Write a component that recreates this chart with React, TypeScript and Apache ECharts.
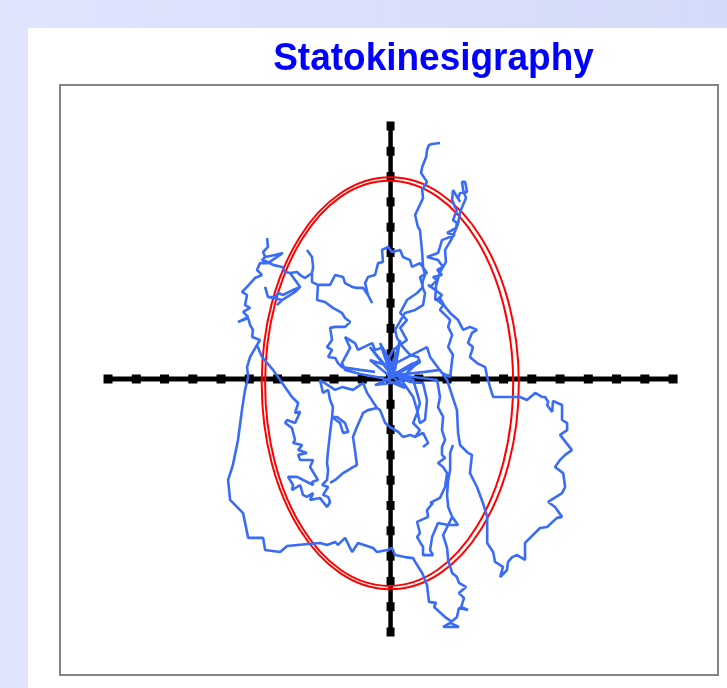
import React, { useEffect, useRef } from "react";
import * as echarts from "echarts";

type P = [number, number];

// Cross ticks (arbitrary sway units, one marker per unit)
const crossTicks = [-10, -9, -8, -7, -6, -5, -4, -3, -2, -1, 0, 1, 2, 3, 4, 5, 6, 7, 8, 9, 10];

// Confidence ellipses: [cx, cy, rx, ry]
const ellipses: [number, number, number, number][] = [
  [-0.01, -0.17, 4.55, 8.14],
  [-0.05, -0.17, 4.39, 8.01],
];

// Centre-of-pressure trajectory, in pieces (x = medio-lateral, y = antero-posterior)
const segTop: P[] = [
  [1.75, 9.33], [1.47, 9.29], [1.36, 9.25], [1.29, 9.05], [1.26, 8.77], [1.12, 8.38], [1.08, 8.14],
  [1.29, 7.79], [1.12, 7.47], [1.15, 7.15], [0.87, 6.48], [0.97, 6.01], [1.04, 5.89], [1.12, 4.98],
  [1.15, 4.43], [1.22, 4.11], [1.15, 3.91], [1.12, 3.64], [1.22, 3.40], [1.15, 2.92], [0.87, 2.73],
  [0.51, 2.61], [0.16, 1.94], [0.23, 1.62], [0.44, 1.26], [0.69, 0.95], [0.97, 0.87], [1.04, 0.67],
  [0.76, 0.47], [0.34, 0.28], [-0.02, 0.24],
];

const segCenter: P[] = [
  [-0.73, 1.26], [-0.19, 0.55], [-0.73, 0.75], [0.05, 0.04], [-0.37, 1.42], [0.16, 0.36], [0.34, 1.54],
  [-0.09, -0.04], [0.80, 0.63], [0.09, 0.16], [1.04, 0.75], [0.27, -0.12], [-0.55, -0.24], [0.16, 0.12],
  [-0.30, 1.23], [-0.55, 1.15], [-0.65, 1.42], [-0.80, 1.34], [-1.15, 1.15], [-1.26, 1.42], [-1.61, 1.66],
  [-1.43, 1.23], [-1.72, 0.63], [-1.61, 0.36], [-1.08, 0.20], [-0.30, 0.04], [0.51, -0.36], [-0.09, 0.28],
  [0.69, -0.12], [1.15, -0.16], [1.29, -0.83], [1.22, -1.62], [1.04, -1.74], [0.94, -1.23], [0.80, -0.71],
  [0.51, -0.24], [-0.02, 0.51], [1.29, 1.26], [1.40, 0.87], [1.82, 0.24], [2.11, 0.08],
];

const segRight: P[] = [
  [2.18, 0.75], [2.21, 0.95], [2.04, 1.26], [2.18, 1.74], [2.04, 2.06], [2.11, 2.33], [1.86, 2.61],
  [1.75, 2.73], [1.86, 2.92], [1.65, 3.12], [1.82, 3.32], [1.58, 3.52], [1.33, 3.72], [1.40, 3.64],
  [1.65, 3.91], [1.50, 4.03], [1.82, 4.11], [1.65, 4.31], [1.86, 4.43], [1.68, 4.70], [1.29, 4.82],
  [1.68, 4.98], [1.75, 5.22], [1.82, 5.49], [2.28, 5.69], [2.00, 5.77], [2.32, 5.97], [2.35, 6.17],
  [2.21, 6.28], [2.35, 6.68], [2.28, 6.80], [2.18, 7.08], [2.21, 7.47], [2.46, 7.00], [2.39, 7.15],
  [2.46, 7.35], [2.71, 7.39], [2.64, 7.79], [2.53, 7.79],
  [2.57, 7.47], [2.67, 7.15], [2.46, 6.60], [2.39, 6.13], [2.18, 5.57], [1.93, 5.10], [1.96, 4.62],
  [1.75, 4.23], [1.61, 3.68], [1.58, 3.12], [1.75, 3.20], [1.93, 2.85], [2.11, 2.61], [2.39, 2.33],
  [2.57, 1.94], [2.81, 2.06], [3.06, 1.94], [2.88, 1.82], [2.74, 1.42], [2.92, 1.26], [2.81, 0.87],
  [3.06, 0.63], [3.35, 0.47], [3.42, 0.08], [3.52, -0.32], [3.63, -0.71],
  [4.58, -0.71], [4.83, -0.83], [5.12, -0.55], [5.36, -0.71], [5.47, -0.71], [5.58, -0.91], [5.54, -1.03],
  [5.72, -1.30], [5.75, -0.87], [6.07, -1.03], [6.07, -1.62], [6.25, -1.74], [6.25, -2.02], [6.00, -2.21],
  [6.42, -2.81], [6.18, -3.00], [6.00, -3.20], [5.82, -3.48], [6.11, -3.72], [6.18, -4.27], [6.07, -4.51],
  [5.58, -4.86], [5.82, -5.06], [6.07, -5.45], [5.89, -5.49], [5.54, -5.85], [5.29, -5.89], [4.76, -6.48],
  [4.76, -7.15], [4.48, -6.96], [4.30, -7.04], [4.16, -7.23], [4.12, -7.55], [3.88, -7.83], [3.98, -7.43],
  [3.70, -7.23], [3.63, -6.84], [3.42, -6.48], [3.42, -5.45], [3.27, -4.90], [3.06, -4.27], [2.81, -3.72],
  [2.88, -3.00], [2.74, -2.92], [2.46, -2.61], [2.39, -2.13], [2.35, -1.23], [2.00, -0.04], [1.75, 0.36],
  [1.22, 0.28], [0.51, 0.20], [-0.02, 0.20],
];

const segLower: P[] = [
  [1.65, -0.04], [1.75, -0.71], [1.68, -1.11], [1.86, -1.50], [1.82, -2.02], [1.93, -2.41], [1.82, -2.69],
  [1.82, -3.00], [1.93, -3.12], [1.68, -3.32], [1.86, -3.48], [2.00, -3.72], [1.93, -4.27], [1.75, -4.70],
  [1.47, -4.86], [1.40, -4.90], [1.50, -4.90], [1.29, -5.18], [1.33, -5.45], [0.94, -5.65], [1.04, -6.09],
  [0.94, -6.25], [1.15, -6.64], [1.15, -6.96], [1.50, -6.96], [1.40, -6.76], [1.47, -6.25], [1.68, -5.69],
  [2.04, -5.77], [2.39, -5.77], [2.18, -5.45], [2.04, -5.06], [2.00, -4.58], [2.04, -3.99], [2.11, -3.60],
  [2.11, -2.92], [2.21, -2.61], [2.11, -2.92], [2.11, -3.60], [2.04, -3.99], [2.00, -4.58], [2.04, -5.06],
  [2.18, -5.45], [2.04, -5.77], [1.86, -6.17], [2.00, -6.68], [2.04, -7.15], [2.18, -7.67], [2.35, -7.83],
  [2.42, -8.06], [2.67, -8.22], [2.42, -8.46], [2.60, -8.66], [2.50, -9.01], [2.74, -9.13], [2.42, -9.05],
  [2.35, -9.41], [2.11, -9.64], [2.42, -9.80], [1.86, -9.80], [2.18, -9.60], [1.93, -9.41], [1.54, -9.01],
  [1.61, -8.85], [1.36, -8.81], [1.29, -8.14], [1.12, -7.67], [0.87, -7.23], [0.80, -7.08], [0.51, -7.04],
  [0.16, -6.96], [0.05, -6.68], [-0.12, -6.76], [-0.48, -6.84], [-0.62, -6.68], [-1.15, -6.48], [-1.36, -6.84],
  [-1.61, -6.28], [-1.86, -6.56], [-1.96, -6.44], [-2.25, -6.56], [-2.50, -6.48], [-2.92, -6.52], [-3.66, -6.60],
  [-3.91, -6.84], [-4.44, -6.76], [-4.51, -6.28], [-5.04, -6.28], [-5.22, -5.30], [-5.68, -4.78], [-5.75, -3.99],
  [-5.58, -3.40], [-5.40, -2.41], [-5.26, -1.23], [-5.15, -0.43], [-5.04, 0.08], [-5.08, 0.47], [-4.97, 0.87],
  [-4.73, 1.34],
  [-4.55, 0.87], [-4.16, 0.36], [-3.91, -0.04], [-3.49, -0.71], [-3.27, -0.95], [-3.38, -1.34], [-3.20, -1.30],
  [-3.38, -1.74], [-3.66, -1.62], [-3.73, -1.74], [-3.49, -1.94], [-3.38, -2.41], [-3.45, -2.53], [-3.13, -2.61],
  [-3.27, -2.81], [-2.96, -2.92], [-3.27, -3.00], [-3.20, -3.20], [-2.74, -3.20], [-2.85, -3.48], [-2.57, -3.99],
  [-2.78, -4.07], [-2.74, -4.19], [-3.31, -3.87], [-3.63, -3.87], [-3.45, -4.19], [-3.49, -4.39], [-3.20, -4.19],
  [-3.10, -4.58], [-2.96, -4.66], [-2.74, -4.51], [-2.85, -4.78], [-2.50, -4.70], [-2.25, -5.06], [-2.14, -4.86],
  [-2.21, -4.66], [-2.39, -4.58], [-2.21, -4.27], [-2.42, -4.19], [-2.25, -3.99],
  [-2.21, -3.60], [-2.25, -3.32], [-2.21, -2.81], [-2.14, -2.13], [-2.07, -1.50], [-1.89, -1.50], [-1.61, -1.74],
  [-1.50, -2.09], [-1.68, -2.13], [-1.79, -1.74], [-2.07, -1.50], [-2.04, -1.11], [-2.14, -0.83], [-2.21, -0.43],
  [-2.39, -0.55], [-2.50, -0.04], [-1.96, -0.43], [-1.72, -0.32], [-1.33, -0.43], [-0.97, -0.16], [-0.83, -0.55],
  [-0.48, -1.15],
  [-0.80, -1.23], [-0.97, -1.34], [-1.08, -1.62], [-1.19, -1.90], [-1.33, -2.29], [-1.26, -2.81], [-1.19, -3.40],
  [-1.33, -3.48], [-1.50, -3.60], [-1.68, -3.72], [-1.96, -3.99], [-2.14, -4.11],
  [-1.96, -3.99], [-1.68, -3.72], [-1.50, -3.60], [-1.33, -3.48], [-1.19, -3.40], [-1.26, -2.81], [-1.33, -2.29],
  [-1.19, -1.90], [-1.08, -1.62], [-0.97, -1.34], [-0.80, -1.23], [-0.48, -1.15],
  [-0.37, -1.23], [-0.19, -1.74], [-0.02, -1.90], [0.27, -2.09], [0.44, -2.29], [0.69, -2.21], [0.87, -2.29],
  [1.15, -2.13], [1.33, -2.53], [1.15, -2.69], [1.33, -2.53], [1.15, -2.13], [0.87, -2.29], [1.04, -2.02],
  [0.80, -1.74], [0.94, -1.34], [1.04, -0.95], [0.94, -0.55], [0.80, -0.04], [0.34, 0.12], [-0.02, 0.20],
];

const segUpper: P[] = [
  [-0.09, 0.75], [0.09, 1.15], [0.58, 1.54], [0.34, 2.02], [0.58, 2.33], [0.34, 2.61], [0.58, 3.12],
  [0.94, 3.40], [1.15, 3.64], [1.04, 4.03], [1.29, 4.19], [1.04, 4.58], [0.76, 4.43], [0.69, 4.70],
  [0.44, 4.82], [0.34, 5.10], [0.05, 5.02], [-0.09, 5.22], [-0.30, 5.10], [-0.27, 4.62], [-0.44, 4.58],
  [-0.55, 4.11], [-0.80, 4.03], [-0.90, 3.79], [-0.80, 3.32], [-0.65, 3.00], [-0.80, 3.32], [-0.97, 3.60],
  [-1.19, 3.60], [-1.36, 3.64], [-1.61, 3.79], [-1.68, 4.03], [-1.96, 4.11], [-2.14, 3.72], [-2.57, 3.72],
  [-2.60, 3.12], [-2.32, 3.04], [-2.04, 2.81], [-1.72, 2.61], [-1.61, 2.41], [-1.43, 2.25], [-1.61, 2.06],
  [-1.96, 2.06], [-2.14, 2.02], [-2.07, 1.54], [-2.25, 1.26], [-2.07, 1.15], [-2.21, 0.87], [-1.96, 0.83],
  [-1.86, 0.63], [-1.72, 0.47], [-1.50, 0.43], [-1.08, 0.36], [-0.55, 0.28],
  [-1.08, 0.36], [-1.50, 0.43], [-1.72, 0.47], [-1.86, 0.63], [-1.96, 0.83], [-2.21, 0.87], [-2.07, 1.15],
  [-2.25, 1.26], [-2.07, 1.54], [-2.14, 2.02], [-1.96, 2.06], [-1.61, 2.06], [-1.43, 2.25], [-1.61, 2.41],
  [-1.72, 2.61], [-2.04, 2.81], [-2.32, 3.04], [-2.60, 3.12], [-2.57, 3.72],
  [-2.78, 3.83], [-2.78, 4.19], [-2.74, 4.43], [-2.78, 4.82], [-2.96, 5.10], [-2.78, 4.82], [-2.74, 4.43],
  [-2.78, 4.19], [-3.03, 3.99], [-3.20, 4.11], [-3.31, 4.23], [-3.56, 4.19], [-3.20, 3.64], [-3.45, 3.52],
  [-3.81, 3.32], [-3.98, 3.40], [-4.09, 3.24], [-4.34, 3.24], [-4.44, 3.64], [-4.34, 3.24], [-3.84, 3.12],
  [-4.02, 2.92], [-3.84, 3.12], [-3.38, 3.44], [-3.20, 3.64], [-3.56, 4.19], [-3.73, 4.23], [-3.84, 4.43],
  [-4.16, 4.51], [-4.34, 4.62], [-4.55, 4.70], [-4.44, 4.82], [-4.51, 5.02], [-4.34, 5.22], [-4.37, 5.57],
  [-4.34, 5.22], [-4.51, 5.02], [-4.44, 4.82], [-4.09, 4.90], [-3.81, 4.98], [-4.34, 4.58], [-4.62, 4.58],
  [-4.73, 4.31], [-4.55, 4.11], [-4.80, 3.99], [-5.08, 3.64], [-5.26, 3.44], [-5.08, 3.32], [-5.15, 2.92],
  [-4.97, 2.81], [-5.22, 2.65], [-5.04, 2.45], [-5.40, 2.25], [-5.04, 2.41], [-4.97, 2.13], [-4.87, 1.94],
  [-4.90, 1.66], [-4.62, 1.54], [-4.73, 1.34],
];

const trajectory: P[] = [...segTop, ...segCenter, ...segRight, ...segLower, ...segUpper];

export default function App() {
  const ref = useRef<HTMLDivElement>(null);
  useEffect(() => {
    if (!ref.current) return;
    const chart = echarts.init(ref.current, undefined, { renderer: "svg" });
    chart.setOption({
      animation: false,
      graphic: [
        {
          type: "rect",
          z: -20,
          shape: { x: 0, y: 0, width: 727, height: 688 },
          style: {
            fill: {
              type: "linear", x: 0, y: 0, x2: 1, y2: 0,
              colorStops: [
                { offset: 0, color: "#e0e4fd" },
                { offset: 1, color: "#d4dbf8" },
              ],
            },
          },
        },
        { type: "rect", z: -10, shape: { x: 28, y: 28, width: 699, height: 660 }, style: { fill: "#ffffff" } },
        {
          type: "text",
          z: 10,
          x: 433.5,
          y: 56,
          scaleY: 1.06,
          style: {
            text: "Statokinesigraphy",
            fill: "#0000ff",
            fontSize: 37,
            fontWeight: "bold",
            fontFamily: '"Liberation Sans", Arial, sans-serif',
            align: "center",
            verticalAlign: "middle",
          },
        },
      ],
      grid: {
        left: 60, top: 85, width: 658, height: 590,
        show: true, backgroundColor: "#ffffff", borderColor: "#858585", borderWidth: 2,
      },
      xAxis: { type: "value", min: -11.7, max: 11.59, show: false },
      yAxis: { type: "value", min: -11.7, max: 11.62, show: false },
      series: [
        {
          type: "line",
          data: crossTicks.map((v) => [v, 0]),
          symbol: "rect",
          symbolSize: [9, 9],
          showAllSymbol: true,
          itemStyle: { color: "#000" },
          lineStyle: { color: "#000", width: 5 },
          z: 2,
          silent: true,
        },
        {
          type: "line",
          data: crossTicks.map((v) => [0, v]),
          symbol: "rect",
          symbolSize: [8, 9],
          showAllSymbol: true,
          itemStyle: { color: "#000" },
          lineStyle: { color: "#000", width: 4.5 },
          z: 2,
          silent: true,
        },
        {
          type: "custom",
          data: ellipses,
          z: 3,
          silent: true,
          renderItem: (params: any, api: any) => {
            const c = api.coord([api.value(0), api.value(1)]);
            const s = api.size([api.value(2), api.value(3)]);
            return {
              type: "ellipse",
              shape: { cx: c[0], cy: c[1], rx: s[0], ry: s[1] },
              style: { fill: "none", stroke: "#ff0000", lineWidth: 2 },
            };
          },
        },
        {
          type: "line",
          data: trajectory,
          showSymbol: false,
          symbol: "none",
          lineStyle: { color: "#3a6cf6", width: 2.6 },
          z: 4,
          silent: true,
        },
      ],
    });
    return () => chart.dispose();
  }, []);
  return <div ref={ref} style={{ position: "fixed", left: 0, top: 0, width: 727, height: 688 }} />;
}
